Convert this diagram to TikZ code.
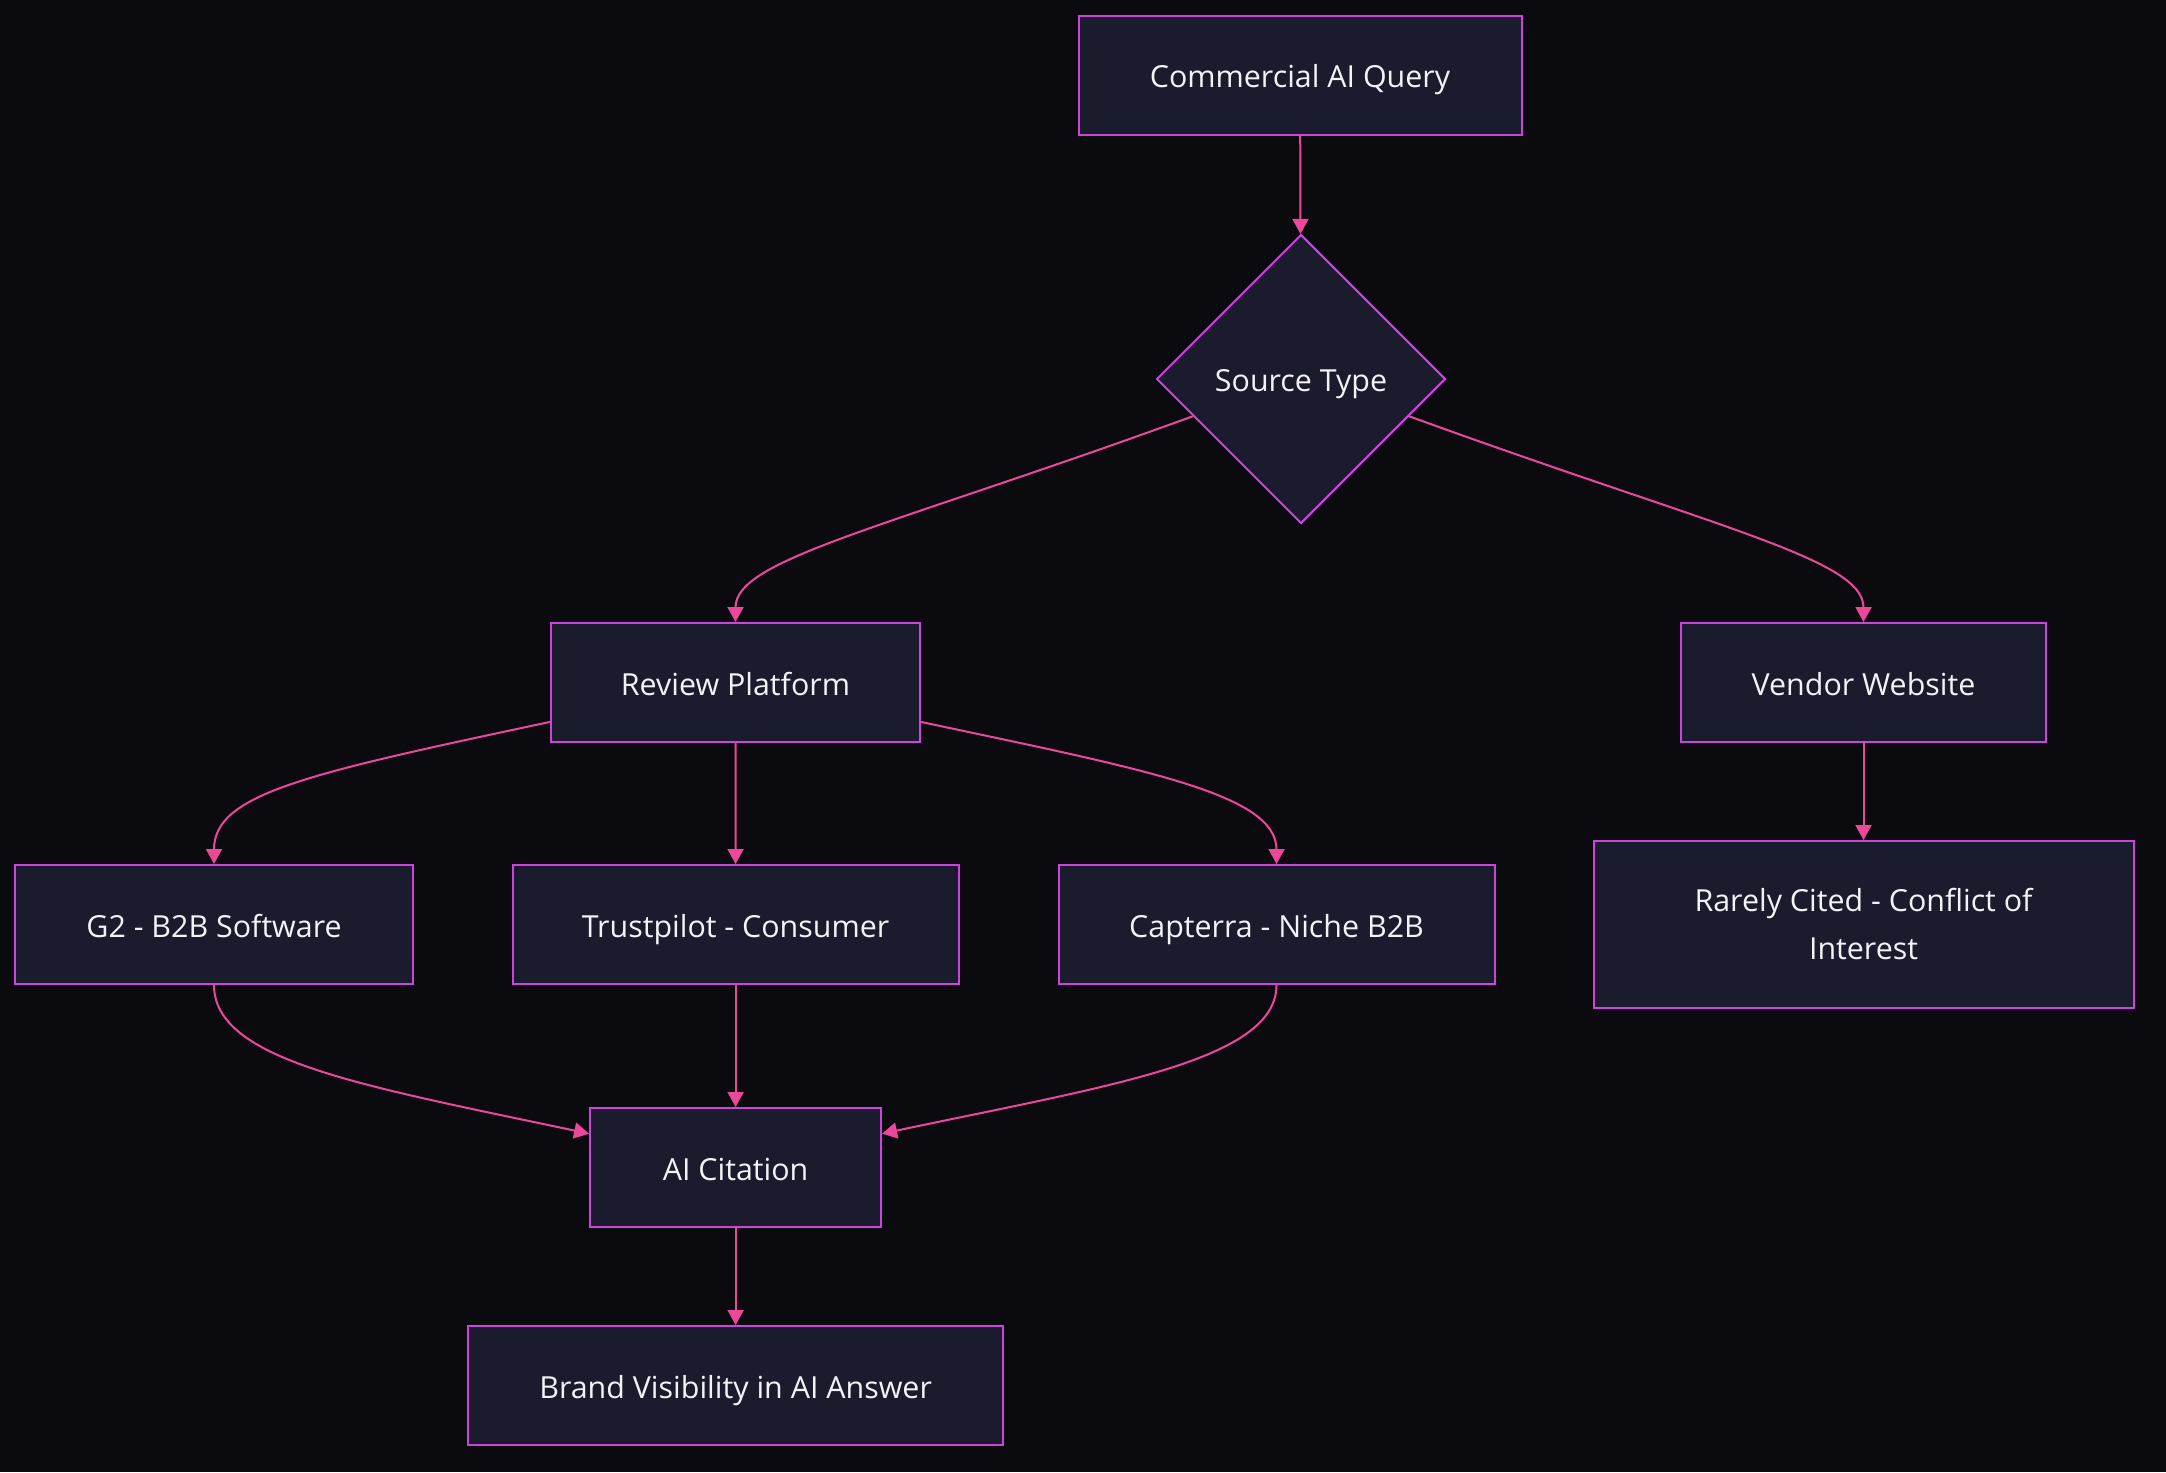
\documentclass[tikz,border=0pt]{standalone}
\usepackage{fontspec}
\setmainfont{Open Sans}
\usetikzlibrary{arrows.meta,shapes.geometric}
\definecolor{bgdark}{HTML}{0A0A0F}
\definecolor{boxfill}{HTML}{1B1B2E}
\definecolor{boxline}{HTML}{CC44DD}
\definecolor{linkpink}{HTML}{EC4899}
\definecolor{txt}{HTML}{F2F2F7}

\begin{document}
\begin{tikzpicture}[x=0.5pt, y=0.5pt, font=\fontsize{15.2}{24}\selectfont, >={Triangle[length=7.5pt, width=8pt]},
  box/.style={draw=boxline, fill=boxfill, line width=1pt, text=txt, rectangle, minimum height=59.5pt, align=center, inner sep=3pt, text height=12.5pt, text depth=0pt},
  dec/.style={draw=boxline, fill=boxfill, line width=1pt, text=txt, diamond, aspect=1, minimum size=144.5pt, inner sep=0pt, text height=12.5pt, text depth=0pt},
  link/.style={->, draw=linkpink, line width=1pt}]
\fill[bgdark] (0,0) rectangle (2166,-1472);
\node[box, minimum width=221.5pt] (query) at (1300,-75) {Commercial AI Query};
\node[dec] (src) at (1301,-379) {Source Type};
\node[box, minimum width=184.5pt] (review) at (735.5,-682.5) {Review Platform};
\node[box, minimum width=182.5pt] (vendor) at (1863.5,-682.5) {Vendor Website};
\node[box, minimum width=199pt] (gtwo) at (214,-924.5) {G2 - B2B Software};
\node[box, minimum width=223pt] (trust) at (735.6,-924.5) {Trustpilot - Consumer};
\node[box, minimum width=218pt] (capt) at (1276.5,-924.5) {Capterra - Niche B2B};
\node[box, minimum width=270pt, minimum height=83.5pt, text height=, text depth=] (rare) at (1863.5,-924.5) {Rarely Cited - Conflict of\\Interest};
\node[box, minimum width=145.5pt] (cite) at (735.6,-1167.5) {AI Citation};
\node[box, minimum width=267.5pt] (brand) at (735.6,-1385.5) {Brand Visibility in AI Answer};
\draw[link] (query)--(src);
\draw[link] (src.199) .. controls +(200:330) and +(90:63) .. (review.north);
\draw[link] (src.-19) .. controls +(-20:330) and +(90:63) .. (vendor.north);
\draw[link] (review.192) .. controls +(192:250) and +(90:70) .. (gtwo.north);
\draw[link] (review)--(trust);
\draw[link] (review.-12) .. controls +(-12:230) and +(90:70) .. (capt.north);
\draw[link] (gtwo.south) .. controls +(-90:76) and +(168:230) .. (cite.167);
\draw[link] (trust)--(cite);
\draw[link] (capt.south) .. controls +(-90:76) and +(12:230) .. (cite.13);
\draw[link] (cite)--(brand);
\draw[link] (vendor)--(rare);
\end{tikzpicture}
\end{document}
